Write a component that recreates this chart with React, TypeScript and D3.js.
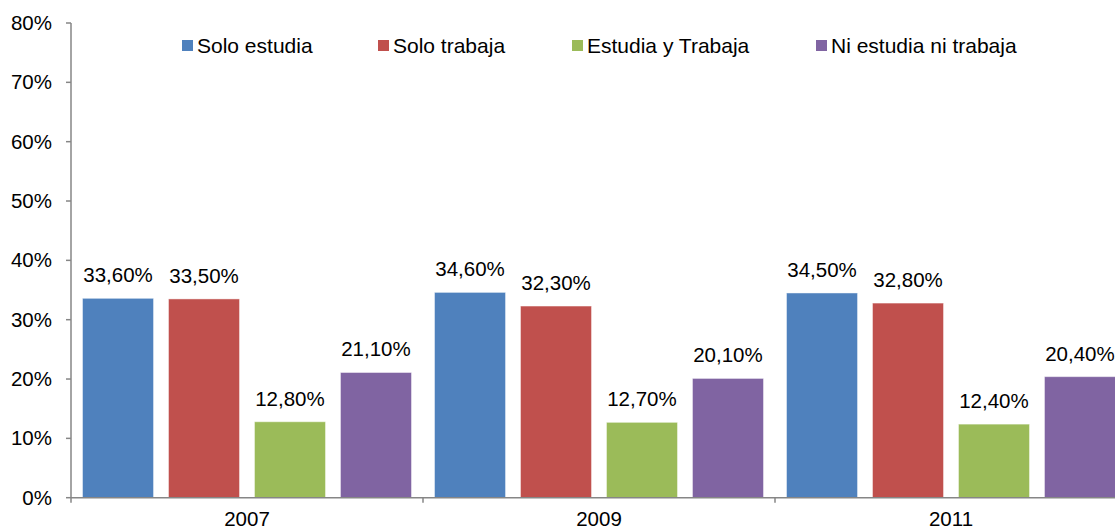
import React from 'react';
import * as d3 from 'd3';

const years = ['2007', '2009', '2011'];
const series = ['Solo estudia', 'Solo trabaja', 'Estudia y Trabaja', 'Ni estudia ni trabaja'];
const colors = ['#4F81BD', '#C0504D', '#9BBB59', '#8064A2'];
const values = [
  [33.6, 33.5, 12.8, 21.1],
  [34.6, 32.3, 12.7, 20.1],
  [34.5, 32.8, 12.4, 20.4],
];
const yTicks = [0, 10, 20, 30, 40, 50, 60, 70, 80];
const legendX = [182, 378, 572, 816];

const width = 1115;
const height = 531;
const left = 71;
const groupW = 352;
const fontFamily = '"Liberation Sans", Arial, sans-serif';
const axisColor = '#868686';

const fmt = (v: number) => v.toFixed(2).replace('.', ',') + '%';

export default function App() {
  const x0 = d3.scaleBand<string>().domain(years).range([left, left + groupW * years.length]).padding(0);
  const x1 = d3.scaleBand<string>().domain(series).range([11.5, groupW - 11.5]).paddingInner(0.174).paddingOuter(0);
  const y = d3.scaleLinear().domain([0, 80]).range([497.7, 23]);

  const boundaries = years.map(yr => x0(yr)!);

  return (
    <svg width={width} height={height} style={{ position: 'absolute', left: 0, top: 0 }} fontFamily={fontFamily}>
      <rect width={width} height={height} fill="#fff" />

      {/* bars */}
      {years.map((yr, gi) => (
        <g key={yr} transform={`translate(${x0(yr)},0)`}>
          {series.map((s, si) => {
            const v = values[gi][si];
            const bx = x1(s)!;
            return (
              <g key={s}>
                <rect x={bx} y={y(v)} width={x1.bandwidth()} height={y(0) - y(v)}
                  fill={colors[si]} stroke="#fff" strokeOpacity={0.45} strokeWidth={1} />
                <text x={bx + x1.bandwidth() / 2} y={y(v) - 16} textAnchor="middle" fontSize={20.5} fill="#000">
                  {fmt(v)}
                </text>
              </g>
            );
          })}
        </g>
      ))}

      {/* y axis */}
      <line x1={left} x2={left} y1={y(80)} y2={y(0)} stroke={axisColor} strokeWidth={1.5} />
      {yTicks.map(t => (
        <g key={t}>
          <line x1={left - 5} x2={left} y1={y(t)} y2={y(t)} stroke={axisColor} strokeWidth={1.5} />
          <text x={52} y={y(t) + 7} textAnchor="end" fontSize={20.5} fill="#000">{t}%</text>
        </g>
      ))}

      {/* x axis */}
      <line x1={left} x2={width} y1={y(0)} y2={y(0)} stroke={axisColor} strokeWidth={1.5} />
      {boundaries.map((bx, i) => (
        <line key={i} x1={bx} x2={bx} y1={y(0)} y2={y(0) + 5} stroke={axisColor} strokeWidth={1.5} />
      ))}
      {years.map(yr => (
        <text key={yr} x={x0(yr)! + x0.bandwidth() / 2} y={526} textAnchor="middle" fontSize={20.5} fill="#000">
          {yr}
        </text>
      ))}

      {/* legend */}
      {series.map((s, i) => (
        <g key={s}>
          <rect x={legendX[i]} y={40} width={11} height={11} fill={colors[i]} />
          <text x={legendX[i] + 15} y={52.5} fontSize={21} fill="#000">{s}</text>
        </g>
      ))}
    </svg>
  );
}
